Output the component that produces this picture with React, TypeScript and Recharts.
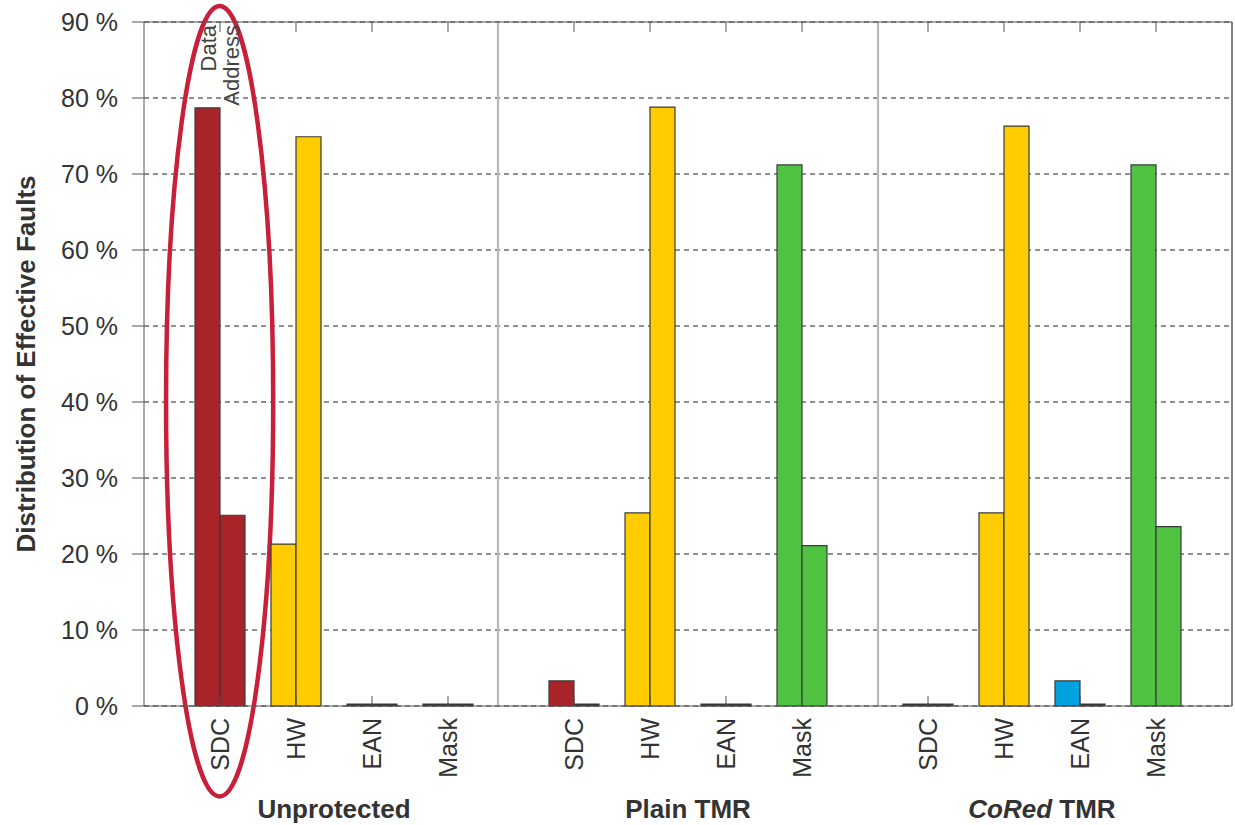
import React from 'react';
import {
  BarChart,
  Bar,
  XAxis,
  YAxis,
  CartesianGrid,
  Cell,
  ReferenceLine,
  ReferenceArea,
} from 'recharts';

const GROUPS = ['Unprotected', 'Plain TMR', 'CoRed TMR'];
const CATEGORIES = ['SDC', 'HW', 'EAN', 'Mask'];
// share of effective faults (%) per group, one value per category
const DATA_SHARE = [
  [78.7, 21.3, 0, 0],
  [3.3, 25.4, 0, 71.2],
  [0, 25.4, 3.3, 71.2],
];
const ADDRESS_SHARE = [
  [25.1, 74.9, 0, 0],
  [0, 78.8, 0, 21.1],
  [0, 76.3, 0, 23.6],
];
const Y_TICKS = [0, 10, 20, 30, 40, 50, 60, 70, 80, 90];
const SERIES_NAMES = ['Data', 'Address'];

const COLORS: Record<string, string> = {
  SDC: '#a82428',
  HW: '#ffcc00',
  EAN: '#00a3e0',
  Mask: '#50c242',
};
const ZERO_FILL = '#333';

const FONT = '"Liberation Sans", Arial, Helvetica, sans-serif';
const INK = '#333';
const GROUP_GAP = 0.658;
const GROUP_STEP = CATEGORIES.length + GROUP_GAP;
const X_MAX = (GROUPS.length - 1) * GROUP_STEP + CATEGORIES.length + 1;
// separators sit this far after the last category of the group before them
const SEPARATOR_OFFSET = [GROUP_GAP, 1];
const MARGIN = { top: 0, right: 3, bottom: 0, left: 0 };
const TOP_AXIS_HEIGHT = 22;
const PLOT_TOP = MARGIN.top + TOP_AXIS_HEIGHT;

const rows = GROUPS.flatMap((group, g) =>
  CATEGORIES.map((cat, c) => ({
    pos: g * GROUP_STEP + c + 1,
    group,
    cat,
    data: DATA_SHARE[g][c],
    address: ADDRESS_SHARE[g][c],
  }))
);
const catTicks = rows.map((r) => r.pos);
const groupTicks = GROUPS.map((_, g) => g * GROUP_STEP + (CATEGORIES.length + 1) / 2);
const separators = SEPARATOR_OFFSET.map((off, g) => g * GROUP_STEP + CATEGORIES.length + off);

const CatTick = (props: any) => {
  const { x, y, index } = props;
  const label = rows[index] ? rows[index].cat : '';
  return (
    <text
      transform={`translate(${x + 9}, ${y}) rotate(-90)`}
      textAnchor="end"
      fontSize={25}
      fontFamily={FONT}
      fill={INK}
    >
      {label}
    </text>
  );
};

const GroupTick = (props: any) => {
  const { x, y, index } = props;
  const name = GROUPS[index] || '';
  const italic = name.startsWith('CoRed');
  return (
    <text x={x} y={y + 27} textAnchor="middle" fontSize={26} fontWeight="bold" fontFamily={FONT} fill={INK}>
      {italic ? (
        <>
          <tspan fontStyle="italic">CoRed</tspan>
          <tspan>{name.slice(5)}</tspan>
        </>
      ) : (
        name
      )}
    </text>
  );
};

const seriesLabel = (name: string, shift: number) => (p: any) => {
  if (p.index !== 0) return null;
  const cx = Number(p.x) + Number(p.width) / 2 + shift;
  return (
    <text
      key={name}
      transform={`translate(${cx}, ${PLOT_TOP + 3}) rotate(-90)`}
      textAnchor="end"
      fontSize={22}
      fontFamily={FONT}
      fill="#444"
    >
      {name}
    </text>
  );
};

const Ellipse = (p: any) => (
  <ellipse
    cx={p.x + p.width / 2}
    cy={p.y + p.height / 2}
    rx={Math.abs(p.width) / 2}
    ry={Math.abs(p.height) / 2}
    fill="none"
    stroke="#c8203a"
    strokeWidth={4.5}
  />
);

const YTitle = (props: any) => {
  const vb = props.viewBox || { x: 0, y: 0, width: 144, height: 684 };
  return (
    <text
      transform={`translate(${vb.x + 35}, ${vb.y + vb.height / 2}) rotate(-90)`}
      textAnchor="middle"
      fontSize={26}
      fontWeight="bold"
      fontFamily={FONT}
      fill={INK}
    >
      Distribution of Effective Faults
    </text>
  );
};

const fillFor = (cat: string, v: number) => (v === 0 ? ZERO_FILL : COLORS[cat]);

export default function App() {
  return (
    <div style={{ position: 'absolute', left: 0, top: 0, background: '#fff' }}>
      <BarChart width={1235} height={825} data={rows} margin={MARGIN} barGap={0}>
        <CartesianGrid xAxisId="cat" vertical={false} stroke="#222" strokeDasharray="5 4" />
        <XAxis
          xAxisId="cat"
          dataKey="pos"
          type="number"
          domain={[0, X_MAX]}
          ticks={catTicks}
          interval={0}
          height={85}
          tickSize={-10}
          tickMargin={22}
          tick={<CatTick />}
          stroke="#555"
          allowDataOverflow
        />
        <XAxis
          xAxisId="group"
          dataKey="pos"
          type="number"
          domain={[0, X_MAX]}
          ticks={groupTicks}
          interval={0}
          height={34}
          tickSize={0}
          tickMargin={0}
          axisLine={false}
          tickLine={false}
          tick={<GroupTick />}
        />
        <XAxis
          xAxisId="top"
          orientation="top"
          dataKey="pos"
          type="number"
          domain={[0, X_MAX]}
          ticks={catTicks}
          interval={0}
          height={TOP_AXIS_HEIGHT}
          tickSize={-10}
          tick={() => <g />}
          stroke="#555"
        />
        <YAxis
          domain={[0, 90]}
          ticks={Y_TICKS}
          interval={0}
          width={144}
          tickSize={12}
          tickMargin={14}
          tickFormatter={(v) => `${v} %`}
          tick={{ fontSize: 25, fontFamily: FONT, fill: INK }}
          stroke="#555"
          label={{ content: YTitle }}
        />
        {separators.map((s) => (
          <ReferenceLine key={s} xAxisId="cat" x={s} stroke="#b8b8b8" strokeWidth={2.2} />
        ))}
        <ReferenceLine xAxisId="cat" x={X_MAX} stroke="#555" strokeWidth={1.5} />
        <Bar
          xAxisId="cat"
          dataKey="data"
          barSize={25}
          minPointSize={2}
          stroke="#3a3a3a"
          strokeWidth={1.2}
          isAnimationActive={false}
          label={seriesLabel(SERIES_NAMES[0], 9)}
        >
          {rows.map((r, i) => (
            <Cell key={`d-${i}`} fill={fillFor(r.cat, r.data)} />
          ))}
        </Bar>
        <Bar
          xAxisId="cat"
          dataKey="address"
          barSize={25}
          minPointSize={2}
          stroke="#3a3a3a"
          strokeWidth={1.2}
          isAnimationActive={false}
          label={seriesLabel(SERIES_NAMES[1], 7)}
        >
          {rows.map((r, i) => (
            <Cell key={`a-${i}`} fill={fillFor(r.cat, r.address)} />
          ))}
        </Bar>
        <ReferenceArea
          xAxisId="cat"
          x1={rows[0].pos - 0.71}
          x2={rows[0].pos + 0.7}
          y1={-11.9}
          y2={92.1}
          ifOverflow="visible"
          shape={Ellipse}
        />
      </BarChart>
    </div>
  );
}
